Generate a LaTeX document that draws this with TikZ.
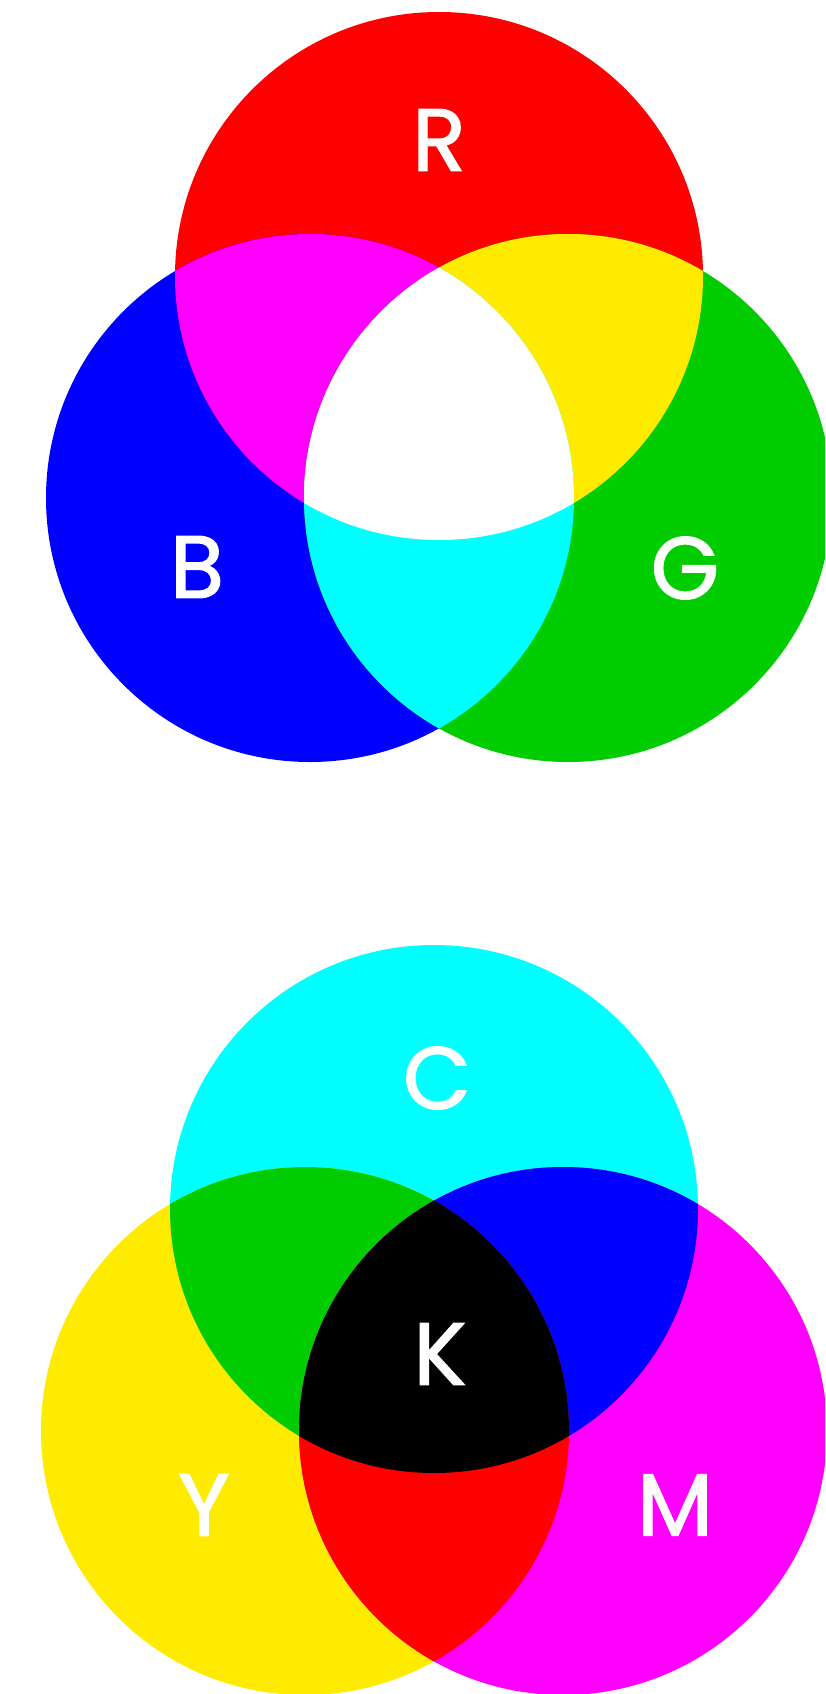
\documentclass[tikz,border=0pt]{standalone}
\usepackage{fontspec}
\newfontfamily\labfont[FakeBold=1.6]{Poppins}
\definecolor{cR}{HTML}{FF0000}
\definecolor{cG}{HTML}{00CC00}
\definecolor{cB}{HTML}{0000FF}
\definecolor{cC}{HTML}{00FFFF}
\definecolor{cM}{HTML}{FF00FF}
\definecolor{cY}{HTML}{FFEB00}
\definecolor{cK}{HTML}{000000}
\definecolor{cW}{HTML}{FFFFFF}
\tikzset{lab/.style={inner sep=0pt, text=white, font=\labfont\fontsize{88}{88}\selectfont}}
\begin{document}
\begin{tikzpicture}[x=1pt,y=-1pt]
\useasboundingbox (0,0) rectangle (825,1694);
\clip (0,0) rectangle (825,1694);
\fill[white] (0,0) rectangle (825,1694);
\def\rad{264}
% ---------- RGB (additive) ----------
\coordinate (cr) at (439,276);
\coordinate (cb) at (310,498);
\coordinate (cg) at (568,498);
\fill[cR] (cr) circle (\rad);
\fill[cB] (cb) circle (\rad);
\fill[cG] (cg) circle (\rad);
\begin{scope}\clip (cr) circle (\rad); \fill[cM] (cb) circle (\rad);\end{scope}
\begin{scope}\clip (cr) circle (\rad); \fill[cY] (cg) circle (\rad);\end{scope}
\begin{scope}\clip (cb) circle (\rad); \fill[cC] (cg) circle (\rad);\end{scope}
\begin{scope}\clip (cr) circle (\rad); \clip (cb) circle (\rad); \fill[cW] (cg) circle (\rad);\end{scope}
\node[lab] (R) at (439,140) {R};
\node[lab] (B) at (197,567) {B};
\node[lab] (G) at (685,568) {G};
% ---------- CMY (subtractive) ----------
\coordinate (cc) at (434,1209);
\coordinate (cy) at (305,1431);
\coordinate (cm) at (563,1431);
\fill[cC] (cc) circle (\rad);
\fill[cY] (cy) circle (\rad);
\fill[cM] (cm) circle (\rad);
\begin{scope}\clip (cc) circle (\rad); \fill[cG] (cy) circle (\rad);\end{scope}
\begin{scope}\clip (cc) circle (\rad); \fill[cB] (cm) circle (\rad);\end{scope}
\begin{scope}\clip (cy) circle (\rad); \fill[cR] (cm) circle (\rad);\end{scope}
\begin{scope}\clip (cc) circle (\rad); \clip (cy) circle (\rad); \fill[cK] (cm) circle (\rad);\end{scope}
\node[lab] (C) at (437,1078) {C};
\node[lab] (K) at (440,1354) {K};
\node[lab] (Y) at (204,1505) {Y};
\node[lab] (M) at (675,1505) {M};
\end{tikzpicture}
\end{document}
